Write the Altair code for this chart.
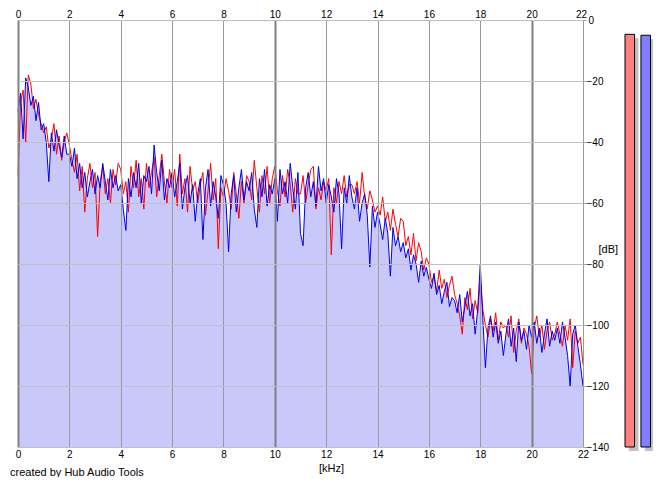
import altair as alt
import pandas as pd

# ---- data ----
freq_khz = [round(i * 0.1, 1) for i in range(221)]

blue_db = [
    -30, -24, -39, -19, -22, -28, -25, -33, -27, -36,
    -34, -40, -53, -37, -43, -36, -41, -45, -38, -44,
    -44, -48, -42, -52, -47, -55, -50, -58, -53, -49,
    -57, -51, -55, -47, -53, -59, -49, -55, -51, -56,
    -54, -62, -69, -52, -58, -50, -55, -47, -60, -51,
    -53, -48, -57, -41, -50, -56, -46, -59, -52, -55,
    -50, -58, -53, -47, -62, -55, -51, -60, -54, -66,
    -57, -52, -72, -55, -49, -61, -53, -58, -65, -51,
    -54, -60, -76, -57, -51, -63, -55, -49, -59, -53,
    -56, -50, -62, -68, -52, -58, -49, -61, -54, -57,
    -52, -66, -49, -57, -53, -60, -47, -55, -62, -50,
    -70, -74, -55, -50, -58, -53, -61, -48, -56, -52,
    -60, -54, -58, -63, -52, -57, -75, -55, -60, -51,
    -58, -62, -55, -66, -60, -57, -64, -81, -61, -68,
    -63, -67, -72, -65, -70, -84, -68, -74, -71, -76,
    -73, -78, -75, -82, -77, -80, -86, -79, -84, -81,
    -85, -88, -83, -90, -87, -93, -89, -86, -94, -91,
    -92, -96, -90, -99, -94, -89, -97, -93, -103, -95,
    -80, -98, -114, -101, -97, -104, -99, -106, -102, -110,
    -103, -98, -107, -101, -112, -99, -105, -102, -108, -100,
    -104, -99, -106, -101, -109, -103, -98, -107, -102, -105,
    -101, -106, -99, -104, -110, -120, -103, -100, -107, -113,
    -120,
]

red_db = [
    -51, -27, -23, -40, -18, -21, -29, -26, -31, -34,
    -37, -35, -42, -39, -34, -44, -38, -46, -40, -37,
    -41, -46, -50, -44, -56, -48, -63, -52, -47, -55,
    -50, -71, -53, -48, -57, -52, -60, -49, -54, -47,
    -49, -57, -53, -63, -48, -55, -46, -58, -52, -62,
    -47, -55, -50, -45, -58, -51, -44, -53, -60, -49,
    -55, -49, -61, -44, -57, -52, -63, -48, -56, -53,
    -60, -54, -50, -64, -56, -47, -59, -52, -75, -55,
    -58, -52, -56, -62, -50, -57, -65, -53, -60, -51,
    -53, -59, -46, -55, -63, -51, -57, -48, -60, -52,
    -48, -56, -61, -51, -58, -49, -54, -63, -52, -57,
    -57, -51, -60, -54, -49, -48, -62, -55, -59, -53,
    -56, -52, -77, -55, -60, -53, -57, -51, -58, -54,
    -54, -57, -53, -60, -50, -58, -62, -56, -59, -63,
    -61, -64, -58, -66, -63, -69, -62, -67, -71, -65,
    -66, -74, -71, -77, -70, -79, -73, -76, -82, -78,
    -80, -86, -84, -89, -82, -88, -85, -91, -87, -84,
    -90, -93, -97, -103, -91, -95, -88, -98, -92, -96,
    -85, -95, -100, -104, -98, -102, -96, -105, -99, -101,
    -100, -104, -97, -109, -102, -98, -106, -101, -103, -107,
    -116, -101, -97, -104, -100, -108, -102, -99, -105, -103,
    -99, -103, -107, -100, -105, -98, -114, -102, -106, -104,
    -113,
]

meter_channels = ["L", "R"]
meter_levels = [-4.7, -5.0]
meter_colors = ["#ff8080", "#8080ff"]

x_ticks = list(range(0, 23, 2))
y_ticks = list(range(-140, 1, 20))

FONT = "Liberation Sans"

df = pd.DataFrame({"freq": freq_khz, "blue": blue_db, "red": red_db})
meter = pd.DataFrame({"ch": meter_channels, "level": meter_levels})

xscale = alt.Scale(domain=[0, 22], nice=False, zero=False)
yscale = alt.Scale(domain=[-140, 0], nice=False, zero=False)

major = "datum.value % 10 === 0"

y_axis = alt.Axis(
    orient="right", values=y_ticks, title="[dB]", titleAngle=0,
    titleX=15, titleY=229, titleAlign="left", titleBaseline="middle",
    titleFontWeight="normal", titleFontSize=11, labelFontSize=10,
    grid=True, gridColor="#c0c0c0", gridWidth=1, zindex=1,
    ticks=True, tickSize=3, tickColor="#a0a0a0",
    labelPadding={"condition": {"test": "datum.value === 0", "value": 2}, "value": 0},
    labelAlign="left", labelBaseline="middle", domain=False,
    labelOverlap=False, labelFlush=False,
)

area = alt.Chart(df).mark_area(color="#c8c8fa", opacity=1).encode(
    x=alt.X(
        "freq:Q", scale=xscale,
        axis=alt.Axis(
            orient="bottom", values=x_ticks, title="[kHz]",
            titleX=313, titleY=21, titleBaseline="middle", titleAlign="center",
            titleFontWeight="normal", titleFontSize=11, labelFontSize=10,
            ticks=False, tickSize=0, domain=False, labelPadding=2,
            grid=True,
            gridColor={"condition": {"test": major, "value": "#808080"}, "value": "#9a9a9a"},
            gridWidth={"condition": {"test": major, "value": 2}, "value": 1},
            zindex=1, labelOverlap=False, labelFlush=False,
        ),
    ),
    y=alt.Y("blue:Q", scale=yscale, axis=y_axis),
    y2=alt.datum(-140),
)

red_line = alt.Chart(df).mark_line(color="#ff0000", strokeWidth=1).encode(
    x=alt.X(
        "freq:Q", scale=xscale,
        axis=alt.Axis(
            orient="top", values=x_ticks, title=None, grid=False,
            ticks=False, tickSize=0, domain=False, labelPadding=3,
            labelBaseline="alphabetic",
            labelOffset={"condition": {"test": "datum.value === 22", "value": -2}, "value": 0},
            labelFontSize=10, labelOverlap=False, labelFlush=False,
        ),
    ),
    y=alt.Y("red:Q", scale=yscale, axis=None),
)

blue_line = alt.Chart(df).mark_line(color="#0000ee", strokeWidth=1).encode(
    x=alt.X("freq:Q", scale=xscale, axis=None),
    y=alt.Y("blue:Q", scale=yscale, axis=None),
)

mscale = alt.Scale(domain=meter_channels, range=[607, 632.5], paddingInner=0.4, paddingOuter=0)

shadow = alt.Chart(meter).mark_bar(color="#c0c4bc", xOffset=4, yOffset=4, y2Offset=4).encode(
    x=alt.X("ch:N", scale=mscale, axis=None),
    y=alt.Y("level:Q", scale=yscale, axis=None),
    y2=alt.datum(-140),
)

bars = alt.Chart(meter).mark_bar(stroke="black", strokeWidth=1, opacity=1).encode(
    x=alt.X("ch:N", scale=mscale, axis=None),
    y=alt.Y("level:Q", scale=yscale, axis=None),
    y2=alt.datum(-140),
    color=alt.Color("ch:N", scale=alt.Scale(domain=meter_channels, range=meter_colors), legend=None),
)

chart = (
    alt.layer(area, red_line, blue_line, shadow, bars)
    .resolve_scale(x="independent", y="shared")
    .resolve_axis(y="independent")
    .properties(
        width=565,
        height=427,
        autosize=alt.AutoSizeParams(type="none"),
        padding={"left": 10, "top": 12, "right": 70, "bottom": 30},
        title=alt.Title(
            "created by Hub Audio Tools", orient="bottom", anchor="start",
            frame="group", dx=-8, offset=-6, fontSize=11, fontWeight="normal",
            color="black", font=FONT,
        ),
        background="white",
    )
    .configure_view(stroke=None)
    .configure_axis(labelFont=FONT, titleFont=FONT, labelColor="black", titleColor="black")
)

chart.save("out.html", embed_options={"renderer": "svg", "actions": False})
